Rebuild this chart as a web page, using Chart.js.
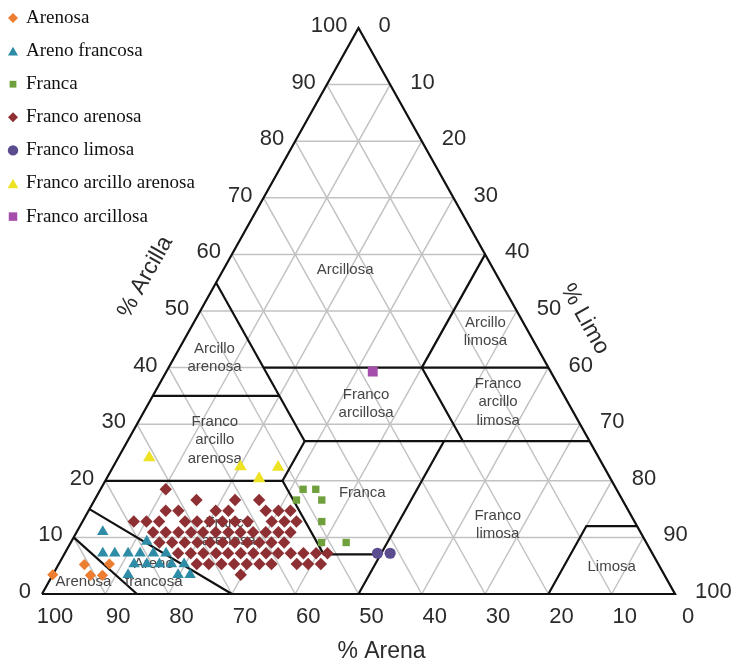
<!DOCTYPE html>
<html>
<head>
<meta charset="utf-8">
<script src="https://cdn.jsdelivr.net/npm/chart.js"></script>
<style>
  html, body { margin: 0; padding: 0; background: #ffffff; }
  #wrap { width: 736px; height: 662px; }
</style>
</head>
<body>
<div id="wrap"><canvas id="chart" width="736" height="662"></canvas></div>
<script>
// Soil samples, each as [% arena, % limo, % arcilla]
const arenosa = [
  [96.6, 0.0, 3.4], [90.7, 4.1, 5.2], [86.7, 8.0, 5.3], [90.7, 6.0, 3.3], [88.8, 7.9, 3.3]
];
const arenoFrancosa = [
  [84.9, 4.1, 11.0], [78.8, 11.9, 9.3],
  [86.8, 6.0, 7.2], [84.9, 7.9, 7.2], [82.8, 10.0, 7.2], [80.9, 11.9, 7.2], [78.8, 14.0, 7.2], [76.8, 16.0, 7.2],
  [82.8, 11.9, 5.3], [80.8, 13.9, 5.3], [78.8, 15.9, 5.3], [76.9, 17.8, 5.3], [74.9, 19.8, 5.3],
  [84.7, 11.9, 3.4], [76.8, 19.8, 3.4], [74.9, 21.7, 3.4]
];
const franca = [
  [49.5, 32.0, 18.5], [47.5, 34.0, 18.5], [51.5, 31.9, 16.6], [47.5, 35.9, 16.6],
  [49.4, 37.8, 12.8], [51.3, 39.6, 9.1], [47.4, 43.5, 9.1]
];
const francoArenosa = [
  [71.2, 10.3, 18.5],
  [67.3, 16.1, 16.6], [61.2, 22.2, 16.6], [57.4, 26.0, 16.6],
  [73.1, 12.2, 14.7], [71.1, 14.2, 14.7], [65.2, 20.1, 14.7], [63.2, 22.1, 14.7], [57.3, 28.0, 14.7], [55.3, 30.0, 14.7], [53.4, 31.9, 14.7],
  [79.1, 8.1, 12.8], [77.1, 10.1, 12.8], [75.1, 12.1, 12.8], [71.0, 16.2, 12.8], [69.1, 18.1, 12.8], [67.1, 20.1, 12.8],
  [65.1, 22.1, 12.8], [63.1, 24.1, 12.8], [61.1, 26.1, 12.8], [57.3, 29.9, 12.8], [55.3, 31.9, 12.8], [53.4, 33.8, 12.8],
  [77.0, 12.1, 10.9], [75.0, 14.1, 10.9], [73.0, 16.1, 10.9], [71.0, 18.1, 10.9], [69.1, 20.0, 10.9], [67.1, 22.0, 10.9],
  [65.1, 24.0, 10.9], [63.2, 25.9, 10.9], [61.2, 27.9, 10.9], [59.2, 29.9, 10.9], [57.2, 31.9, 10.9], [55.3, 33.8, 10.9],
  [76.9, 14.0, 9.1], [74.9, 16.0, 9.1], [72.9, 18.0, 9.1], [70.9, 20.0, 9.1], [68.9, 22.0, 9.1], [66.9, 24.0, 9.1],
  [65.0, 25.9, 9.1], [63.0, 27.9, 9.1], [61.1, 29.8, 9.1], [59.2, 31.7, 9.1], [57.2, 33.7, 9.1],
  [74.9, 17.9, 7.2], [72.9, 19.9, 7.2], [70.9, 21.9, 7.2], [68.9, 23.9, 7.2], [67.0, 25.8, 7.2], [65.0, 27.8, 7.2], [63.0, 29.8, 7.2],
  [61.0, 31.8, 7.2], [59.1, 33.7, 7.2], [57.1, 35.7, 7.2], [55.1, 37.7, 7.2], [53.1, 39.7, 7.2], [51.3, 41.5, 7.2],
  [72.9, 21.8, 5.3], [71.0, 23.7, 5.3], [69.0, 25.7, 5.3], [67.0, 27.7, 5.3], [65.0, 29.7, 5.3], [63.0, 31.7, 5.3],
  [61.1, 33.6, 5.3], [57.1, 37.6, 5.3], [55.3, 39.4, 5.3], [53.3, 41.4, 5.3],
  [66.9, 29.7, 3.4]
];
const francoLimosa = [[43.4, 49.4, 7.2], [41.4, 51.4, 7.2]];
const francoArcilloArenosa = [[71.0, 4.9, 24.1], [57.4, 20.1, 22.5], [55.5, 24.1, 20.4], [51.5, 26.1, 22.4]];
const francoArcillosa = [[28.1, 32.6, 39.3]];

const seriesNames = ['Arenosa', 'Areno francosa', 'Franca', 'Franco arenosa', 'Franco limosa', 'Franco arcillo arenosa', 'Franco arcillosa'];
const seriesData = [arenosa, arenoFrancosa, franca, francoArenosa, francoLimosa, francoArcilloArenosa, francoArcillosa];
const seriesColors = ['#ED7D31', '#2E8CA6', '#70A03C', '#8E3033', '#5B4C8F', '#EDE324', '#A44DAA'];
const seriesStyles = ['rectRot', 'triangle', 'rect', 'rectRot', 'circle', 'triangle', 'rect'];
const seriesRadius = [5.6, 6.6, 5.2, 6.2, 5.6, 7.2, 7];

// Percent ticks on the three sides and interior grid steps
const tickValues = [0, 10, 20, 30, 40, 50, 60, 70, 80, 90, 100];
const gridSteps = [10, 20, 30, 40, 50, 60, 70, 80, 90];

// Texture class borders as polylines of [arena, limo, arcilla]
const classBorders = [
  [[100, 0, 0], [0, 100, 0], [0, 0, 100], [100, 0, 0]],
  [[85, 15, 0], [90, 0, 10]],
  [[70, 30, 0], [85, 0, 15]],
  [[80, 0, 20], [52, 28, 20], [52, 41, 7], [43, 50, 7]],
  [[50, 50, 0], [23, 50, 27]],
  [[20, 80, 0], [8, 80, 12], [0, 88, 12]],
  [[65, 0, 35], [45, 20, 35]],
  [[45, 0, 55], [45, 28, 27]],
  [[52, 28, 20], [45, 28, 27]],
  [[45, 28, 27], [0, 73, 27]],
  [[45, 15, 40], [0, 60, 40]],
  [[20, 53, 27], [20, 40, 40], [0, 40, 60]]
];

// Class names and the texture point each is centred on
const classNames = [
  { lines: ['Arcillosa'], at: [23.5, 19.3, 57.2] },
  { lines: ['Arcillo', 'arenosa'], at: [51.9, 6.4, 41.7] },
  { lines: ['Franco', 'arcillo', 'arenosa'], at: [59.1, 13.7, 27.2] },
  { lines: ['Franco', 'arcillosa'], at: [32.0, 34.4, 33.6] },
  { lines: ['Arcillo', 'limosa'], at: [6.8, 46.9, 46.3] },
  { lines: ['Franco', 'arcillo', 'limosa'], at: [11.0, 55.1, 33.9] },
  { lines: ['Franca'], at: [40.5, 41.7, 17.8] },
  { lines: ['Franco', 'limosa'], at: [21.9, 65.9, 12.2] },
  { lines: ['Limosa'], at: [7.6, 87.6, 4.8] },
  { lines: ['Franco', 'arenosa'], at: [65.0, 24.0, 11.0] },
  { lines: ['Areno', 'francosa'], at: [80.5, 15.8, 3.7] },
  { lines: ['Arenosa'], at: [92.4, 5.5, 2.1] }
];

// Ternary triple -> position in the triangle's x/y frame (0..100 each)
function toXY(t) { return { x: t[1] + t[2] / 2, y: t[2] }; }

function lineSet(points, color, width, order) {
  return {
    data: points.map(toXY), showLine: true, pointRadius: 0, pointHoverRadius: 0,
    borderColor: color, borderWidth: width, fill: false, clip: false, order: order
  };
}

const datasets = [];
gridSteps.forEach(v => {
  datasets.push(lineSet([[100 - v, 0, v], [0, 100 - v, v]], '#c2c2c2', 1.5, 2));
  datasets.push(lineSet([[v, 100 - v, 0], [v, 0, 100 - v]], '#c2c2c2', 1.5, 2));
  datasets.push(lineSet([[100 - v, v, 0], [0, v, 100 - v]], '#c2c2c2', 1.5, 2));
});
classBorders.forEach(b => datasets.push(lineSet(b, '#111111', 2.2, 1)));
seriesData.forEach((d, i) => {
  datasets.push({
    label: seriesNames[i], data: d.map(toXY), isSample: true,
    pointStyle: seriesStyles[i], pointRadius: seriesRadius[i], pointHoverRadius: seriesRadius[i],
    backgroundColor: seriesColors[i], borderColor: seriesColors[i], borderWidth: 0,
    showLine: false, clip: false, order: 0
  });
});

function pix(chart, t) {
  const p = toXY(t);
  return { x: chart.scales.x.getPixelForValue(p.x), y: chart.scales.y.getPixelForValue(p.y) };
}

function drawMarker(ctx, style, x, y, r, color) {
  ctx.save();
  ctx.fillStyle = color;
  ctx.beginPath();
  if (style === 'rectRot') {
    ctx.moveTo(x - r, y); ctx.lineTo(x, y - r); ctx.lineTo(x + r, y); ctx.lineTo(x, y + r);
  } else if (style === 'triangle') {
    const yc = y + r / 4;
    ctx.moveTo(x, yc - r);
    ctx.lineTo(x + r * Math.sin(2 * Math.PI / 3), yc - r * Math.cos(2 * Math.PI / 3));
    ctx.lineTo(x + r * Math.sin(4 * Math.PI / 3), yc - r * Math.cos(4 * Math.PI / 3));
  } else if (style === 'rect') {
    const s = r * Math.SQRT1_2;
    ctx.rect(x - s, y - s, 2 * s, 2 * s);
  } else {
    ctx.arc(x, y, r, 0, Math.PI * 2);
  }
  ctx.closePath();
  ctx.fill();
  ctx.restore();
}

const ternaryDecor = {
  id: 'ternaryDecor',
  beforeDatasetsDraw(chart) { chart.$namesDrawn = false; },
  beforeDatasetDraw(chart, args) {
    const ds = chart.data.datasets[args.index];
    if (!ds.isSample || chart.$namesDrawn) return;
    chart.$namesDrawn = true;
    const ctx = chart.ctx;
    ctx.save();
    ctx.font = '15px "Liberation Sans", Arial, sans-serif';
    ctx.fillStyle = '#454545';
    ctx.textAlign = 'center';
    ctx.textBaseline = 'middle';
    classNames.forEach(c => {
      const p = pix(chart, c.at);
      const lh = 18.5;
      const y0 = p.y - (c.lines.length - 1) * lh / 2;
      c.lines.forEach((s, k) => ctx.fillText(s, p.x, y0 + k * lh));
    });
    ctx.restore();
  },
  afterDraw(chart) {
    const ctx = chart.ctx;
    ctx.save();
    ctx.font = '22px "Liberation Sans", Arial, sans-serif';
    ctx.fillStyle = '#2b2b2b';
    ctx.textBaseline = 'middle';
    tickValues.forEach(v => {
      // % Arena along the base
      let p = pix(chart, [v, 100 - v, 0]);
      ctx.textAlign = 'center';
      ctx.fillText(String(v), p.x + 13, p.y + 23);
      // % Arcilla on the left side
      p = pix(chart, [100 - v, 0, v]);
      ctx.textAlign = 'right';
      ctx.fillText(String(v), p.x - 11, p.y - 2);
      // % Limo on the right side
      p = pix(chart, [0, v, 100 - v]);
      ctx.textAlign = 'left';
      ctx.fillText(String(v), p.x + 20, p.y - 2);
    });

    // Axis titles
    const bl = pix(chart, [100, 0, 0]), br = pix(chart, [0, 100, 0]), top = pix(chart, [0, 0, 100]);
    ctx.font = '23px "Liberation Sans", Arial, sans-serif';
    ctx.textAlign = 'center';
    ctx.fillText('% Arena', (bl.x + br.x) / 2 + 23, bl.y + 58);

    const la = Math.atan2(top.y - bl.y, top.x - bl.x);
    const lm = pix(chart, [50, 0, 50]);
    ctx.save();
    ctx.translate(lm.x - 55, lm.y - 34);
    ctx.rotate(la);
    ctx.fillText('% Arcilla', 0, 0);
    ctx.restore();

    const ra = Math.atan2(br.y - top.y, br.x - top.x);
    const rm = pix(chart, [0, 50, 50]);
    ctx.save();
    ctx.translate(rm.x + 68, rm.y + 8);
    ctx.rotate(ra);
    ctx.fillText('% Limo', 0, 0);
    ctx.restore();

    // Legend in the upper-left corner
    ctx.font = '19px "Liberation Serif", "Times New Roman", serif';
    ctx.textAlign = 'left';
    const legendR = [5, 5.8, 4.8, 5, 5.2, 6.2, 6];
    seriesNames.forEach((name, i) => {
      const y = 18 + i * 33.1;
      drawMarker(ctx, seriesStyles[i], 13, y, legendR[i], seriesColors[i]);
      ctx.fillStyle = '#111111';
      ctx.fillText(name, 26, y);
    });
    ctx.restore();
  }
};

new Chart(document.getElementById('chart'), {
  type: 'scatter',
  data: { datasets: datasets },
  options: {
    responsive: false,
    animation: false,
    events: [],
    layout: { padding: { left: 42, right: 61, top: 28, bottom: 68 }, autoPadding: false },
    plugins: { legend: { display: false }, tooltip: { enabled: false } },
    scales: {
      x: { type: 'linear', min: 0, max: 100, display: false },
      y: { type: 'linear', min: 0, max: 100, display: false }
    }
  },
  plugins: [ternaryDecor]
});
</script>
</body>
</html>
